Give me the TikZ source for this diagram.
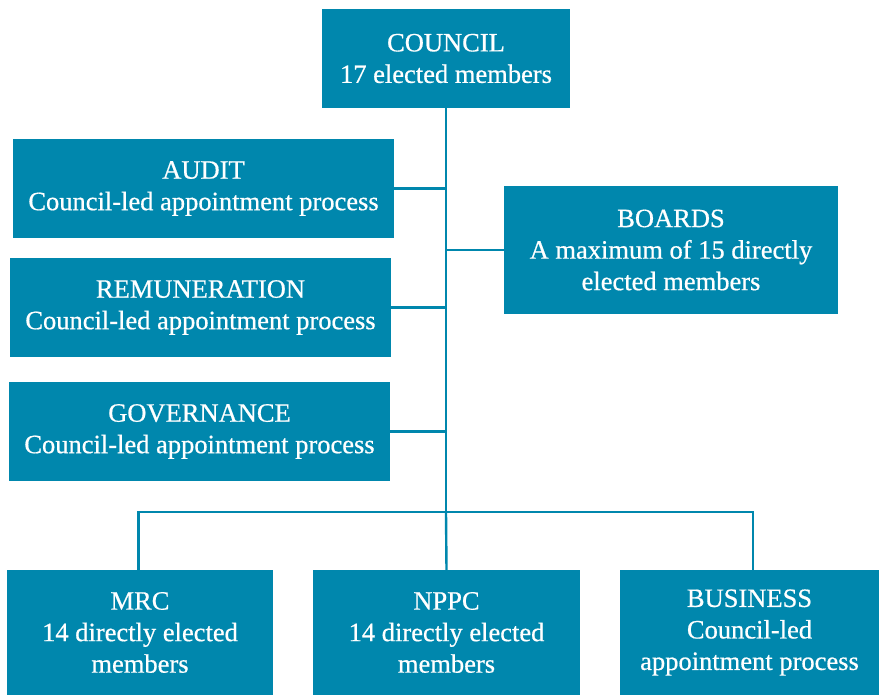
\documentclass[tikz,border=0pt]{standalone}
\usepackage{fontspec}
\setmainfont[FakeBold=0.6]{Liberation Serif}
\definecolor{teal}{RGB}{0,135,173}
\begin{document}
\begin{tikzpicture}[x=1pt,y=-1pt,
  box/.style={fill=teal, draw=none, inner sep=0pt, text=white, align=center,
    font=\fontsize{26.5}{31.5}\selectfont},
  link/.style={draw=teal, line width=2.4pt}]
\useasboundingbox (0,0) rectangle (879,695);
\node[box, minimum width=248pt, minimum height=99pt] (council) at (446,58.5) {COUNCIL\\17 elected members};
\node[box, minimum width=381pt, minimum height=99pt] (audit) at (203.5,188.5) {AUDIT\\Council-led appointment process};
\node[box, minimum width=381pt, minimum height=99pt] (remun) at (200.5,307.5) {REMUNERATION\\Council-led appointment process};
\node[box, minimum width=381pt, minimum height=99pt] (gov) at (199.5,431.5) {GOVERNANCE\\Council-led appointment process};
\node[box, minimum width=334pt, minimum height=128pt] (boards) at (671,250) {BOARDS\\A maximum of 15 directly\\elected members};
\node[box, minimum width=266pt, minimum height=125pt] (mrc) at (140,632.5) {MRC\\14 directly elected\\members};
\node[box, minimum width=267pt, minimum height=125pt] (nppc) at (446.5,632.5) {NPPC\\14 directly elected\\members};
\node[box, minimum width=259pt, minimum height=125pt] (bus) at (749.5,632.5) {BUSINESS\\Council-led\\appointment process};
\coordinate (j) at (446,512);
\draw[link] (council.south) -- (j);
\draw[link] (audit.east) -- (audit.east -| j);
\draw[link] (remun.east) -- (remun.east -| j);
\draw[link] (gov.east) -- (gov.east -| j);
\draw[link] (boards.west) -- (boards.west -| j);
\draw[link] ([xshift=-1.5pt]mrc.north) |- (j) -| ([xshift=3.5pt]bus.north);
\draw[link] (j) -- (nppc.north);
\end{tikzpicture}
\end{document}
